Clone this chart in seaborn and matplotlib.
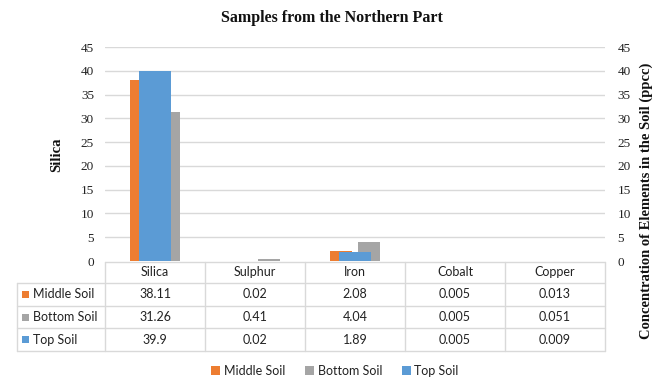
import matplotlib
matplotlib.use("Agg")
import matplotlib.pyplot as plt
from matplotlib.patches import Patch, Rectangle
from matplotlib.lines import Line2D
import pandas as pd
import seaborn as sns

# Element concentrations by soil layer
elements = ["Silica", "Sulphur", "Iron", "Cobalt", "Copper"]
middle_soil = [38.11, 0.02, 2.08, 0.005, 0.013]
bottom_soil = [31.26, 0.41, 4.04, 0.005, 0.051]
top_soil = [39.9, 0.02, 1.89, 0.005, 0.009]
value_labels = {
    "Middle Soil": ["38.11", "0.02", "2.08", "0.005", "0.013"],
    "Bottom Soil": ["31.26", "0.41", "4.04", "0.005", "0.051"],
    "Top Soil": ["39.9", "0.02", "1.89", "0.005", "0.009"],
}
y_ticks = [0, 5, 10, 15, 20, 25, 30, 35, 40, 45]

colors = {"Middle Soil": "#ED7D31", "Bottom Soil": "#A5A5A5", "Top Soil": "#5B9BD5"}
grid_color = "#D9D9D9"
serif = "Liberation Serif"
sans = "Lato"

sns.set_theme(style="white")
plt.rcParams["font.family"] = ["Liberation Serif", "DejaVu Sans"]

W, H = 655, 380
fig = plt.figure(figsize=(W / 100, H / 100), dpi=100)

def fx(px):
    return px / W

def fy(py):
    return 1 - py / H

left_px, right_px, top_px, bottom_px = 105, 605, 47, 261
ax = fig.add_axes([fx(left_px), fy(bottom_px), fx(right_px - left_px), (bottom_px - top_px) / H])

# Middle and bottom soil on the primary axis
prim = pd.DataFrame({
    "Element": elements * 2,
    "Soil": ["Middle Soil"] * 5 + ["Bottom Soil"] * 5,
    "Value": middle_soil + bottom_soil,
})
sns.barplot(data=prim, x="Element", y="Value", hue="Soil", order=elements,
            hue_order=["Middle Soil", "Bottom Soil"], palette=colors,
            width=0.56, gap=0.214, legend=False, ax=ax, saturation=1, linewidth=0)

# Top soil on the secondary axis
ax2 = ax.twinx()
top = pd.DataFrame({"Element": elements, "Value": top_soil})
sns.barplot(data=top, x="Element", y="Value", order=elements, color=colors["Top Soil"],
            width=0.32, ax=ax2, saturation=1, linewidth=0)

for a in (ax, ax2):
    a.set_ylim(0, 45)
    a.set_xlim(-0.5, 4.5)
    a.set_yticks(y_ticks)
    a.set_xlabel("")
    a.set_ylabel("")
    a.set_xticks([])
    for s in a.spines.values():
        s.set_visible(False)
    a.tick_params(axis="y", length=0, labelsize=9.5, colors="#222222")
    for t in a.get_yticklabels():
        t.set_fontfamily(serif)
ax.tick_params(axis="y", pad=8)
ax2.tick_params(axis="y", pad=9)
ax.set_axisbelow(True)
for yv in y_ticks[1:]:
    ax.axhline(yv, color=grid_color, lw=1, zorder=0)

# Titles
fig.text(fx(332), fy(18), "Samples from the Northern Part", ha="center", va="center",
         fontsize=11.5, fontweight="bold", family=serif, color="#111111")
fig.text(fx(57), fy(155), "Silica", ha="center", va="center", rotation=90,
         fontsize=10.5, fontweight="bold", family=serif, color="#111111")
fig.text(fx(646), fy(201), "Concentration of Elements in the Soil (ppcc)", ha="center",
         va="center", rotation=90, fontsize=10.5, fontweight="bold", family=serif,
         color="#111111")

# Data table beneath the bars
tbl_left, col0_right = 17, 105
col_w = 100
row_edges = [262, 283, 306, 328, 351]

def hline(y, x0, x1):
    fig.add_artist(Line2D([fx(x0), fx(x1)], [fy(y), fy(y)], color=grid_color, lw=1))

def vline(x, y0, y1):
    fig.add_artist(Line2D([fx(x), fx(x)], [fy(y0), fy(y1)], color=grid_color, lw=1))

hline(row_edges[0], col0_right, right_px)
for y in row_edges[1:]:
    hline(y, tbl_left, right_px)
vline(tbl_left, row_edges[1], row_edges[-1])
for i in range(6):
    vline(col0_right + i * col_w, row_edges[0], row_edges[-1])

for i, name in enumerate(elements):
    cx = col0_right + col_w * (i + 0.5)
    fig.text(fx(cx), fy((row_edges[0] + row_edges[1]) / 2), name, ha="center",
             va="center", fontsize=9, family=sans, color="#222222")

for r, soil in enumerate(["Middle Soil", "Bottom Soil", "Top Soil"]):
    cy = (row_edges[r + 1] + row_edges[r + 2]) / 2
    fig.add_artist(Rectangle((fx(22), fy(cy + 3.5)), fx(7), 7 / H,
                             facecolor=colors[soil], edgecolor="none"))
    fig.text(fx(33), fy(cy), soil, ha="left", va="center", fontsize=9, family=sans,
             color="#222222")
    for i, lab in enumerate(value_labels[soil]):
        cx = col0_right + col_w * (i + 0.5)
        fig.text(fx(cx), fy(cy), lab, ha="center", va="center", fontsize=9,
                 family=sans, color="#222222")

# Legend
handles = [Patch(facecolor=colors[k], edgecolor="none") for k in colors]
leg = fig.legend(handles, list(colors.keys()), loc="center", bbox_to_anchor=(fx(335), fy(371)),
                 ncol=3, frameon=False, prop={"family": sans, "size": 9},
                 handlelength=0.7, handleheight=0.7, handletextpad=0.3, columnspacing=1.6)
for t in leg.get_texts():
    t.set_color("#222222")

fig.savefig("out.png", dpi=100)
